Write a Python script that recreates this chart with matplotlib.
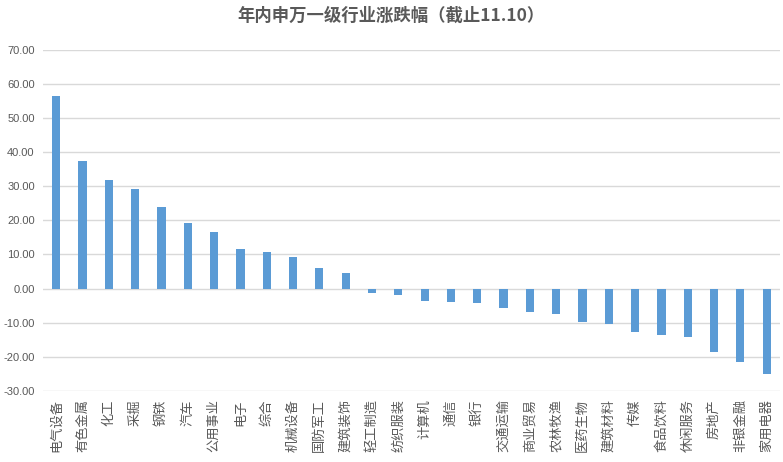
import matplotlib.pyplot as plt
from matplotlib.ticker import FormatStrFormatter

plt.rcParams['font.family'] = ['Noto Sans CJK SC', 'DejaVu Sans']
plt.rcParams['axes.unicode_minus'] = False

industries = ['电气设备', '有色金属', '化工', '采掘', '钢铁', '汽车', '公用事业', '电子',
              '综合', '机械设备', '国防军工', '建筑装饰', '轻工制造', '纺织服装', '计算机',
              '通信', '银行', '交通运输', '商业贸易', '农林牧渔', '医药生物', '建筑材料',
              '传媒', '食品饮料', '休闲服务', '房地产', '非银金融', '家用电器']
changes = [56.6, 37.5, 31.7, 29.3, 23.8, 19.1, 16.5, 11.5, 10.6, 9.4, 5.9, 4.7,
           -1.3, -1.8, -3.7, -3.9, -4.2, -5.7, -7.0, -7.6, -9.8, -10.3,
           -12.6, -13.5, -14.3, -18.6, -21.5, -25.0]
yticks = [-30, -20, -10, 0, 10, 20, 30, 40, 50, 60, 70]

fig = plt.figure(figsize=(7.83, 4.62), dpi=100)
ax = fig.add_axes([0.055, 0.154, 0.941, 0.738])

x = range(len(industries))
ax.bar(x, changes, width=0.31, color='#5B9BD5', zorder=2)

ax.set_xlim(-0.5, len(industries) - 0.5)
ax.set_ylim(-30, 70)
ax.set_yticks(yticks)
ax.yaxis.set_major_formatter(FormatStrFormatter('%.2f'))
ax.set_xticks(list(x))
ax.set_xticklabels(industries, rotation=90, fontsize=9.5, color='#595959')
ax.tick_params(axis='y', labelsize=8, labelcolor='#595959', length=0, pad=6,
               labelfontfamily='Liberation Sans')
ax.tick_params(axis='x', length=0, pad=6)
ax.grid(axis='y', color='#D9D9D9', linewidth=1, zorder=0)
for s in ax.spines.values():
    s.set_visible(False)

fig.suptitle('年内申万一级行业涨跌幅（截止11.10）', x=0.5, y=0.985,
             fontsize=12.5, fontweight='bold', color='#595959')

fig.savefig('out.png', dpi=100)
